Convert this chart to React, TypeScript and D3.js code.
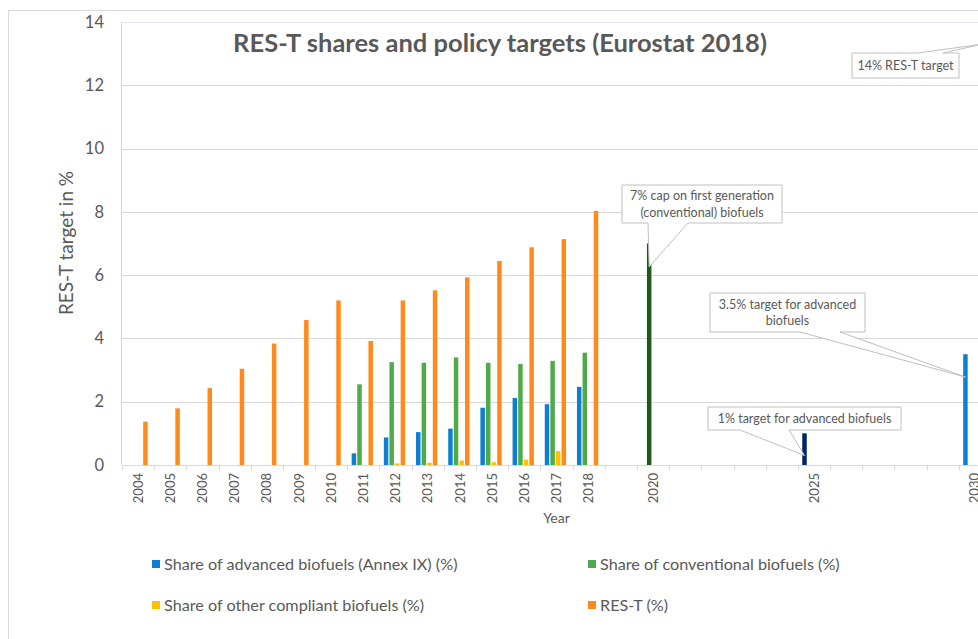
import * as d3 from 'd3';
import React, { useEffect } from 'react';

// categories on the x axis (a band per year, only some are labelled)
const categories = [
  "2004", "2005", "2006", "2007", "2008", "2009", "2010", "2011", "2012", "2013",
  "2014", "2015", "2016", "2017", "2018", "2019", "2020", "2021", "2022", "2023",
  "2024", "2025", "2026", "2027", "2028", "2029", "2030",
];
const tickLabels = [
  "2004", "2005", "2006", "2007", "2008", "2009", "2010", "2011", "2012", "2013",
  "2014", "2015", "2016", "2017", "2018", "2020", "2025", "2030",
];
const yTicks = [0, 2, 4, 6, 8, 10, 12, 14];

// series values, one per category (null = no bar)
const advanced = [
  null, null, null, null, null, null, null, 0.37, 0.87, 1.04,
  1.15, 1.81, 2.12, 1.92, 2.47, null, null, null, null, null,
  null, 1.0, null, null, null, null, 3.5,
];
const conventional = [
  null, null, null, null, null, null, null, 2.55, 3.25, 3.23,
  3.4, 3.23, 3.19, 3.29, 3.55, null, 7.0, null, null, null,
  null, null, null, null, null, null, null,
];
const otherCompliant = [
  null, null, null, null, null, null, null, null, 0.05, 0.07,
  0.14, 0.09, 0.17, 0.44, null, null, null, null, null, null,
  null, null, null, null, null, null, null,
];
const resT = [
  1.37, 1.79, 2.43, 3.04, 3.84, 4.58, 5.2, 3.92, 5.2, 5.52,
  5.93, 6.45, 6.88, 7.14, 8.03, null, null, null, null, null,
  null, null, null, null, null, null, 14,
];

const seriesNames = [
  "Share of advanced biofuels (Annex IX) (%)",
  "Share of conventional biofuels (%)",
  "Share of other compliant biofuels (%)",
  "RES-T (%)",
];
const seriesValues = [advanced, conventional, otherCompliant, resT];
const seriesColors = ["#0c7fd5", "#4faa4a", "#ffc000", "#ff8a1c"];

// target bars drawn in a darker colour
const targetYears = ["2020", "2025"];
const targetSeries = [1, 0];
const targetColors = ["#1d5a1d", "#002469"];

const FONT = "Lato, 'Open Sans', sans-serif";
const GREY = "#595959";

function App() {
  useEffect(() => {
    document.body.style.margin = "0";
  }, []);

  const W = 978, H = 639;
  const left = 122, right = 991, top = 22, bottom = 465;

  const x = d3.scaleBand().domain(categories).range([left, right]);
  const x1 = d3.scaleBand()
    .domain(d3.range(seriesValues.length).map(String))
    .range([0, x.bandwidth()])
    .paddingInner(0.2)
    .paddingOuter(0.975)
    .align(0.4);
  const y = d3.scaleLinear().domain([0, 14]).range([bottom, top]);

  const barX = (cat, s) => x(cat) + x1(String(s));
  const barMid = (cat, s) => barX(cat, s) + x1.bandwidth() / 2;

  const colorFor = (cat, s) => {
    const i = targetYears.indexOf(cat);
    if (i >= 0 && targetSeries[i] === s) return targetColors[i];
    return seriesColors[s];
  };

  const bars = [];
  seriesValues.forEach((vals, s) => {
    vals.forEach((v, i) => {
      if (v == null) return;
      const cat = categories[i];
      bars.push({ key: s + "-" + cat, x: barX(cat, s), y: y(v), h: y(0) - y(v), fill: colorFor(cat, s) });
    });
  });

  // callouts: box in pixels, tip anchored to a bar
  const callouts = [
    { lines: ["7% cap on first generation", "(conventional) biofuels"], cat: "2020", s: 1, tipV: 6.26,
      box: [622, 185, 782, 223], wedge: [648, 688], side: "bottom" },
    { lines: ["3.5% target for advanced", "biofuels"], cat: "2030", s: 0, tipV: 2.78,
      box: [710, 293, 865, 332], wedge: [800, 840], side: "bottom" },
    { lines: ["1% target for advanced biofuels"], cat: "2025", s: 0, tipV: 0.3,
      box: [708, 407, 901, 430], wedge: [740, 789], side: "bottom" },
    { lines: ["14% RES-T target"], cat: "2030", s: 3, tipV: 13.3,
      box: [852, 53, 959, 78], wedge: [918, 943], side: "top" },
  ];

  const calloutPath = (c) => {
    const [x0, y0, x1b, y1] = c.box;
    const tx = barMid(c.cat, c.s), ty = y(c.tipV);
    const [w0, w1] = c.wedge;
    if (c.side === "bottom") {
      return `M${x0},${y0}H${x1b}V${y1}H${w1}L${tx},${ty}L${w0},${y1}H${x0}Z`;
    }
    return `M${x0},${y0}H${w0}L${tx},${ty}L${w1},${y0}H${x1b}V${y1}H${x0}Z`;
  };

  const ticksX = categories.map(c => x(c)).concat([right]);

  const legend = [
    { s: 0, lx: 152, ly: 564 },
    { s: 1, lx: 588, ly: 564 },
    { s: 2, lx: 152, ly: 605 },
    { s: 3, lx: 588, ly: 605 },
  ];

  return (
    <svg width={W} height={H} style={{ display: "block", fontFamily: FONT }}>
      <rect x={0} y={0} width={W} height={H} fill="#fff" />
      <rect x={8.5} y={10.5} width={1100} height={800} fill="none" stroke="#d9d9d9" />

      {/* gridlines */}
      {yTicks.filter(t => t > 0 && t < 14).map(t => (
        <line key={t} x1={left} x2={W} y1={Math.round(y(t)) + 0.5} y2={Math.round(y(t)) + 0.5} stroke="#d9d9d9" />
      ))}
      <line x1={left} x2={W} y1={top + 0.5} y2={top + 0.5} stroke="#dfe7f4" />
      <line x1={left - 0.5} x2={left - 0.5} y1={top} y2={bottom} stroke="#c9d8ef" />

      {/* y tick labels */}
      {yTicks.map(t => (
        <text key={t} x={104} y={y(t)} dy="0.35em" textAnchor="end" fontSize={16.5} fill={GREY}>{t}</text>
      ))}
      <text transform={`translate(73,243) rotate(-90)`} textAnchor="middle" fontSize={19} fill={GREY}>RES-T target in %</text>

      <text x={500} y={52} textAnchor="middle" fontSize={25.5} fontWeight="bold" fill={GREY}>
        RES-T shares and policy targets (Eurostat 2018)
      </text>

      {/* bars */}
      {bars.map(b => (
        <rect key={b.key} x={b.x} y={b.y} width={x1.bandwidth()} height={b.h} fill={b.fill} />
      ))}

      {/* x axis */}
      <line x1={left} x2={W} y1={bottom + 0.5} y2={bottom + 0.5} stroke="#d9d9d9" />
      {ticksX.map((tx, i) => (
        <line key={i} x1={Math.round(tx) + 0.5} x2={Math.round(tx) + 0.5} y1={bottom} y2={bottom + 5} stroke="#d9d9d9" />
      ))}
      {categories.filter(c => tickLabels.includes(c)).map(c => (
        <text key={c} transform={`translate(${x(c) + x.bandwidth() / 2},${bottom + 8}) rotate(-90)`}
          textAnchor="end" dy="0.35em" fontSize={13} fill={GREY}>{c}</text>
      ))}
      <text x={(left + right) / 2} y={523} textAnchor="middle" fontSize={14} fill={GREY}>Year</text>

      {/* callouts */}
      {callouts.map((c, i) => (
        <g key={i}>
          <path d={calloutPath(c)} fill="#fff" stroke="#bfbfbf" strokeWidth={1} />
          {c.lines.map((ln, j) => (
            <text key={j} x={(c.box[0] + c.box[2]) / 2}
              y={(c.box[1] + c.box[3]) / 2 + (j - (c.lines.length - 1) / 2) * 16.5}
              dy="0.35em" textAnchor="middle" fontSize={12.5} fill={GREY}>{ln}</text>
          ))}
        </g>
      ))}

      {/* legend */}
      {legend.map(l => (
        <g key={l.s}>
          <rect x={l.lx} y={l.ly - 4} width={8} height={8} fill={seriesColors[l.s]} />
          <text x={l.lx + 12} y={l.ly} dy="0.35em" fontSize={16.2} fill={GREY}>{seriesNames[l.s]}</text>
        </g>
      ))}
    </svg>
  );
}

export default App;
